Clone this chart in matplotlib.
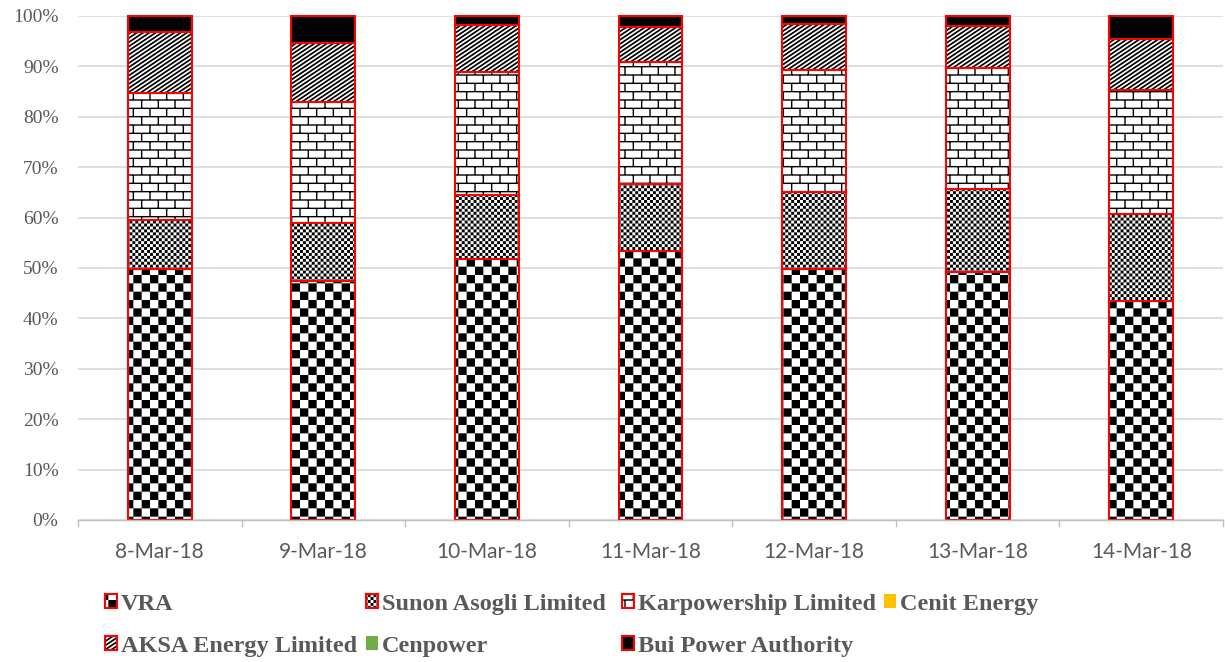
import warnings

import numpy as np
import matplotlib
matplotlib.use("Agg")
import matplotlib.pyplot as plt
import matplotlib.hatch as mhatch
from matplotlib.path import Path

warnings.filterwarnings("ignore")

# ---------------------------------------------------------------------------
# Data: daily share of generation (%) per producer
# ---------------------------------------------------------------------------
dates = ["8-Mar-18", "9-Mar-18", "10-Mar-18", "11-Mar-18",
         "12-Mar-18", "13-Mar-18", "14-Mar-18"]
vra = [49.9, 47.4, 51.7, 53.4, 49.8, 49.2, 43.5]
sunon = [9.6, 11.6, 12.8, 13.3, 15.2, 16.4, 17.2]
karpower = [25.3, 24.0, 24.4, 24.2, 24.2, 24.0, 24.6]
cenit = [0, 0, 0, 0, 0, 0, 0]
aksa = [12.1, 11.7, 9.3, 7.0, 9.3, 8.5, 10.1]
cenpower = [0, 0, 0, 0, 0, 0, 0]
bui = [3.1, 5.3, 1.8, 2.1, 1.5, 1.9, 4.6]


# ---------------------------------------------------------------------------
# Excel-like pattern fills, built as filled quads inside the hatch tile
# ---------------------------------------------------------------------------
def _rect(x0, y0, x1, y1):
    return [(x0, y0), (x1, y0), (x1, y1), (x0, y1), (x0, y0)]


def _checker(n):
    return [_rect(i / n, j / n, (i + 1) / n, (j + 1) / n)
            for i in range(n) for j in range(n) if (i + j) % 2 == 0]


def _bricks(rows=12, t=0.014):
    polys = []
    h = 1.0 / rows
    for k in range(rows + 1):
        polys.append(_rect(0, k * h - t / 2, 1, k * h + t / 2))
    for k in range(rows):
        start = 0.0 if k % 2 == 0 else h
        for xv in np.arange(start, 1.0 + 1e-9, 2 * h):
            polys.append(_rect(xv - t / 2, k * h, xv + t / 2, (k + 1) * h))
    return polys


def _stripes(n=16, slope=2 / 3):
    vp = slope / n          # vertical period
    w = vp / 2
    polys = []
    for k in range(-int(np.ceil(slope / vp)) - 2, int(np.ceil(1 / vp)) + 2):
        c = k * vp
        polys.append([(0, c), (1, c + slope), (1, c + slope + w), (0, c + w), (0, c)])
    return polys


class _QuadHatch(mhatch.HatchPatternBase):
    char = None

    def __init__(self, hatch, density):
        self.polys = self.build() if self.char in hatch else []
        self.num_vertices = 5 * len(self.polys)

    def set_vertices_and_codes(self, vertices, codes):
        step = [Path.MOVETO, Path.LINETO, Path.LINETO, Path.LINETO, Path.CLOSEPOLY]
        for i, poly in enumerate(self.polys):
            vertices[5 * i:5 * i + 5] = poly
            codes[5 * i:5 * i + 5] = step


class BigChecker(_QuadHatch):
    char = "Q"

    def build(self):
        return _checker(12)


class SmallChecker(_QuadHatch):
    char = "q"

    def build(self):
        return _checker(34)


class Bricks(_QuadHatch):
    char = "B"

    def build(self):
        return _bricks()


class WideDiagonal(_QuadHatch):
    char = "D"

    def build(self):
        return _stripes()


mhatch._hatch_types.extend([BigChecker, SmallChecker, Bricks, WideDiagonal])
plt.rcParams["hatch.linewidth"] = 0.0

# ---------------------------------------------------------------------------
# Plot
# ---------------------------------------------------------------------------
grey = "#595959"
serif = "Liberation Serif"

fig = plt.figure(figsize=(12.25, 6.62), dpi=100)
ax = fig.add_axes([78 / 1225, 142 / 662, (1223 - 78) / 1225, 504 / 662])

series = [
    ("VRA", vra, dict(facecolor="white", hatch="Q"), True),
    ("Sunon Asogli Limited", sunon, dict(facecolor="white", hatch="q"), True),
    ("Karpowership Limited", karpower, dict(facecolor="white", hatch="B"), True),
    ("Cenit Energy", cenit, dict(facecolor="#FFC000"), False),
    ("AKSA Energy Limited", aksa, dict(facecolor="white", hatch="D"), True),
    ("Cenpower", cenpower, dict(facecolor="#70AD47"), False),
    ("Bui Power Authority", bui, dict(facecolor="black"), True),
]

x = np.arange(len(dates))
width = 0.39
bottom = np.zeros(len(dates))
handles = {}
for name, vals, style, outlined in series:
    vals = np.asarray(vals, dtype=float)
    fill = ax.bar(x, vals, width, bottom=bottom, edgecolor="black",
                  linewidth=0, **style)
    if outlined:
        edge = ax.bar(x, vals, width, bottom=bottom, facecolor="none",
                      edgecolor="#FF0000", linewidth=1.5, clip_on=False)
        handles[name] = (fill[0], edge[0])
    else:
        handles[name] = (fill[0],)
    bottom += vals

ax.set_xlim(-0.5, len(dates) - 0.5)
ax.set_ylim(0, 100)
ax.set_yticks(np.arange(0, 101, 10))
ax.set_yticklabels([f"{v}%" for v in range(0, 101, 10)])
ax.set_xticks(x)
ax.set_xticklabels(dates)
ax.set_xticks(np.arange(-0.5, len(dates), 1), minor=True)

ax.tick_params(axis="y", length=0, pad=14, labelsize=14, labelcolor=grey)
for lab in ax.get_yticklabels():
    lab.set_fontfamily(serif)
ax.tick_params(axis="x", which="major", length=0, pad=16, labelsize=15, labelcolor=grey)
for lab in ax.get_xticklabels():
    lab.set_fontfamily("Lato")
ax.tick_params(axis="x", which="minor", length=5, width=1, color="#bfbfbf")

ax.yaxis.grid(True, color="#d9d9d9", linewidth=1.2)
ax.set_axisbelow(True)
for side in ("top", "right", "left"):
    ax.spines[side].set_visible(False)
ax.spines["bottom"].set_color("#bfbfbf")
ax.spines["bottom"].set_linewidth(1)

# legend laid out as in the source: 4 columns, 2 rows
legend_cols = [
    (105, ["VRA", "AKSA Energy Limited"]),
    (366, ["Sunon Asogli Limited", "Cenpower"]),
    (622, ["Karpowership Limited", "Bui Power Authority"]),
    (884, ["Cenit Energy"]),
]
for x_px, names in legend_cols:
    leg = fig.legend([handles[n] for n in names], names,
                     loc="upper left", bbox_to_anchor=(x_px / 1225, 1 - 594 / 662),
                     frameon=False, handlelength=0.5, handleheight=0.5,
                     handletextpad=0.15, labelspacing=0.86,
                     borderpad=0, borderaxespad=0,
                     prop=dict(family=serif, weight="bold", size=17.5))
    for t in leg.get_texts():
        t.set_color(grey)

fig.savefig("out.png", dpi=100)
